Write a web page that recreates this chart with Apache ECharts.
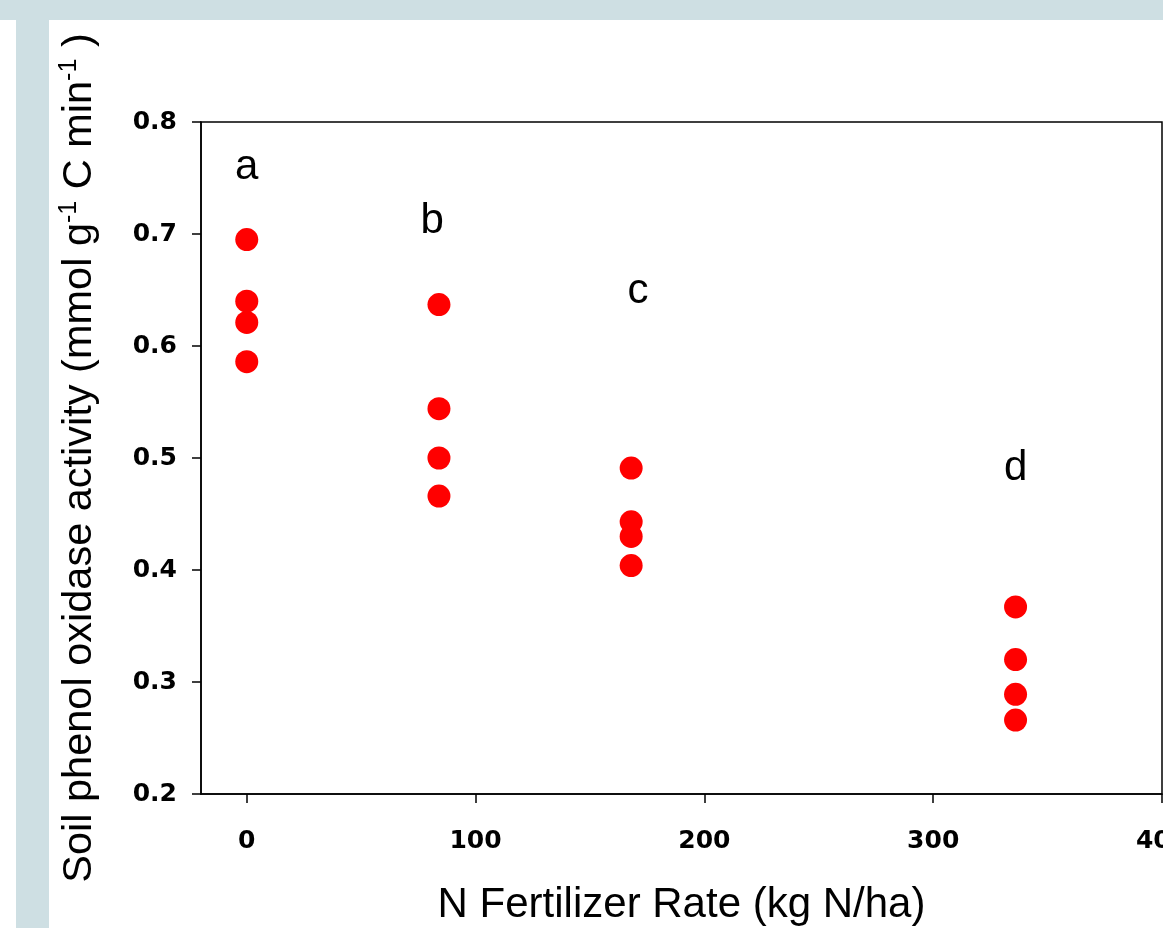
<!DOCTYPE html>
<html>
<head>
<meta charset="utf-8">
<script src="https://cdn.jsdelivr.net/npm/echarts@6/dist/echarts.min.js"></script>
<style>
html,body{margin:0;padding:0;background:#ffffff;}
#chart{width:1163px;height:928px;}
</style>
</head>
<body>
<div id="chart"></div>
<script>
// Data
var rates = [0, 0, 0, 0, 84, 84, 84, 84, 168, 168, 168, 168, 336, 336, 336, 336];
var activity = [0.695, 0.640, 0.621, 0.586, 0.637, 0.544, 0.500, 0.466, 0.491, 0.443, 0.430, 0.404, 0.367, 0.320, 0.289, 0.266];
var groupLetters = ['a', 'b', 'c', 'd'];
var letterX = [0, 81, 171, 336];
var letterY = [0.759, 0.711, 0.649, 0.491];
var xTicks = [0, 100, 200, 300, 400];
var yTicks = [0.2, 0.3, 0.4, 0.5, 0.6, 0.7, 0.8];

var points = rates.map(function (r, i) { return [r, activity[i]]; });
var letters = groupLetters.map(function (l, i) { return { value: [letterX[i], letterY[i]], name: l }; });

var chart = echarts.init(document.getElementById('chart'), null, { renderer: 'canvas' });
var option = {
  backgroundColor: '#ffffff',
  animation: false,
  graphic: [
    { type: 'rect', left: 0, top: 0, shape: { width: 1163, height: 20 }, style: { fill: '#cedfe3' }, z: -10 },
    { type: 'rect', left: 16, top: 20, shape: { width: 33, height: 908 }, style: { fill: '#cedfe3' }, z: -10 }
  ],
  grid: {
    left: 201, top: 122, right: 1, bottom: 134,
    containLabel: false, outerBoundsMode: 'none',
    show: true, borderColor: '#000', borderWidth: 1.5, backgroundColor: 'transparent'
  },
  xAxis: {
    type: 'value', min: -20, max: 400,
    name: 'N Fertilizer Rate (kg N/ha)', nameLocation: 'middle', nameGap: 90,
    nameTextStyle: { fontFamily: 'Liberation Sans', fontSize: 42, color: '#000', lineHeight: 42 },
    axisLine: { show: true, onZero: false, lineStyle: { color: '#000', width: 1.5 } },
    axisTick: { show: true, inside: false, length: 9, customValues: xTicks, lineStyle: { color: '#000', width: 1.5 } },
    axisLabel: { customValues: xTicks, margin: 35, fontFamily: 'DejaVu Sans', fontWeight: 'bold', fontSize: 25, color: '#000' },
    splitLine: { show: false }
  },
  yAxis: {
    type: 'value', min: 0.2, max: 0.8, interval: 0.1,
    name: '{n|Soil phenol oxidase activity (mmol g}{s|-1}{n| C min}{s|-1}{n| )}',
    nameLocation: 'middle', nameRotate: 90, nameGap: 98,
    nameTextStyle: {
      color: '#000',
      rich: {
        n: { fontFamily: 'Liberation Sans', fontSize: 41.5, lineHeight: 46, color: '#000' },
        s: { fontFamily: 'Liberation Sans', fontSize: 25, lineHeight: 26, verticalAlign: 'top', color: '#000' }
      }
    },
    axisLine: { show: true, onZero: false, lineStyle: { color: '#000', width: 1.5 } },
    axisTick: { show: true, inside: false, length: 9, lineStyle: { color: '#000', width: 1.5 } },
    axisLabel: {
      margin: 24, fontFamily: 'DejaVu Sans', fontWeight: 'bold', fontSize: 25, color: '#000',
      formatter: function (v) { return v.toFixed(1); }
    },
    splitLine: { show: false }
  },
  series: [
    {
      type: 'scatter', data: points, symbol: 'circle', symbolSize: 23,
      itemStyle: { color: '#ff0000', opacity: 1 }, z: 3
    },
    {
      type: 'scatter', data: letters, symbolSize: 0, silent: true,
      itemStyle: { opacity: 1 },
      label: {
        show: true, position: 'inside', formatter: '{b}', opacity: 1,
        fontFamily: 'Liberation Sans', fontSize: 42, color: '#000', textBorderWidth: 0
      }
    }
  ]
};
chart.setOption(option);
</script>
</body>
</html>
